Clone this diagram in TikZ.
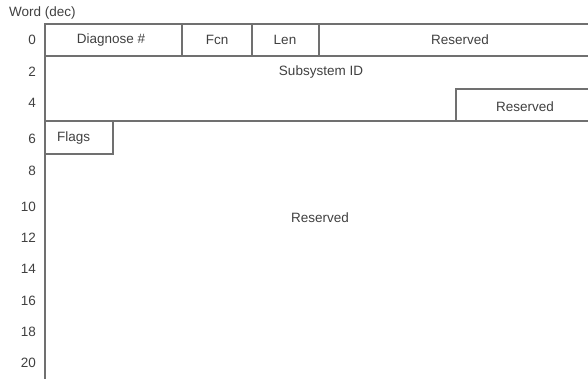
\documentclass[tikz,border=0pt]{standalone}
\usepackage{fontspec}
\setmainfont{Liberation Sans}
\definecolor{linegray}{HTML}{707070}
\definecolor{txtgray}{HTML}{404040}
\begin{document}
\begin{tikzpicture}[x=1pt,y=-1pt,
  frame/.style={draw=linegray,line width=1.7pt},
  lbl/.style={text=txtgray,font=\fontsize{13.5}{15}\selectfont,inner sep=0pt},
  num/.style={lbl,anchor=east}]
\useasboundingbox (0,0) rectangle (588,379);
% frame lines
\coordinate (tl) at (45,24);
\coordinate (tr) at (588,24);
\coordinate (bl) at (45,379);
\draw[frame] (bl) -- (tl) -- (tr);
\coordinate (r0l) at (45,56);
\coordinate (r0r) at (588,56);
\draw[frame] (r0l) -- (r0r);
\coordinate (r4l) at (45,121);
\coordinate (r4r) at (588,121);
\draw[frame] (r4l) -- (r4r);
% row 0 dividers
\foreach \x/\n in {182/a,252/b,319/c}{
  \coordinate (d\n t) at (\x,24);
  \coordinate (d\n b) at (\x,56);
  \draw[frame] (d\n t) -- (d\n b);
}
% reserved box at row 4
\coordinate (rb1) at (456,121);
\coordinate (rb2) at (456,89);
\coordinate (rb3) at (588,89);
\draw[frame] (rb1) -- (rb2) -- (rb3);
% flags box
\coordinate (fb1) at (113,121);
\coordinate (fb2) at (113,154);
\coordinate (fb3) at (45,154);
\draw[frame] (fb1) -- (fb2) -- (fb3);
% texts
\node[lbl,anchor=west] (title) at (9,13) {Word (dec)};
\node[lbl] (diag) at (111,40) {Diagnose \#};
\node[lbl] (fcn) at (217,40) {Fcn};
\node[lbl] (len) at (285,40) {Len};
\node[lbl] (res0) at (460,40) {Reserved};
\node[lbl] (subid) at (321,72) {Subsystem ID};
\node[lbl] (res4) at (525,107) {Reserved};
\node[lbl,anchor=west] (flags) at (57,138) {Flags};
\node[lbl] (resbig) at (320,218) {Reserved};
\foreach \v/\y in {0/40,2/72,4/103,6/139,8/171,10/207,12/238,14/269,16/301,18/332,20/363}{
  \node[num] (n\v) at (36,\y) {\v};
}
\end{tikzpicture}
\end{document}
